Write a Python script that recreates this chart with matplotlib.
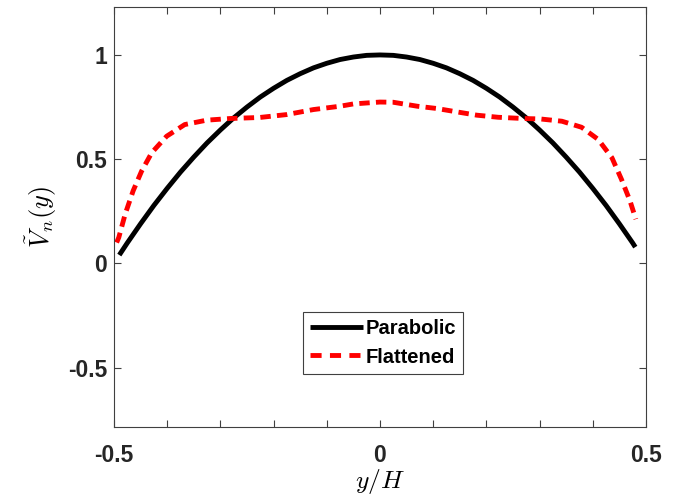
import matplotlib
matplotlib.use("Agg")
import matplotlib.pyplot as plt

# velocity profiles across the channel height
y_parabolic = [-0.49, -0.475, -0.45, -0.425, -0.40, -0.375, -0.35, -0.325, -0.30, -0.275,
               -0.25, -0.225, -0.20, -0.175, -0.15, -0.125, -0.10, -0.075, -0.05, -0.025,
               0.0, 0.025, 0.05, 0.075, 0.10, 0.125, 0.15, 0.175, 0.20, 0.225,
               0.25, 0.275, 0.30, 0.325, 0.35, 0.375, 0.40, 0.425, 0.45, 0.475, 0.48]
v_parabolic = [0.040, 0.098, 0.190, 0.278, 0.360, 0.438, 0.510, 0.578, 0.640, 0.698,
               0.750, 0.798, 0.840, 0.878, 0.910, 0.938, 0.960, 0.978, 0.990, 0.998,
               1.000, 0.998, 0.990, 0.978, 0.960, 0.938, 0.910, 0.878, 0.840, 0.798,
               0.750, 0.698, 0.640, 0.578, 0.510, 0.438, 0.360, 0.278, 0.190, 0.098, 0.078]

y_flat = [-0.495, -0.491, -0.479, -0.464, -0.448, -0.429, -0.401, -0.367, -0.326, -0.282,
          -0.226, -0.175, -0.125, -0.075, -0.05, 0.0, 0.025, 0.07, 0.107, 0.144,
          0.182, 0.222, 0.269, 0.301, 0.342, 0.379, 0.410, 0.436, 0.454, 0.470, 0.481]
v_flat = [0.10, 0.124, 0.236, 0.348, 0.443, 0.531, 0.610, 0.666, 0.687, 0.695,
          0.700, 0.714, 0.738, 0.754, 0.765, 0.774, 0.773, 0.754, 0.743, 0.727,
          0.711, 0.701, 0.695, 0.693, 0.682, 0.653, 0.595, 0.507, 0.403, 0.300, 0.212]

x_ticks = [-0.5, -0.4, -0.3, -0.2, -0.1, 0.0, 0.1, 0.2, 0.3, 0.4, 0.5]
x_ticklabels = ['-0.5', '', '', '', '', '0', '', '', '', '', '0.5']
y_ticks = [-0.5, 0, 0.5, 1]
y_ticklabels = ['-0.5', '0', '0.5', '1']

plt.rcParams['font.family'] = ['Liberation Sans', 'DejaVu Sans']
plt.rcParams['mathtext.fontset'] = 'cm'
plt.rcParams['lines.scale_dashes'] = False

fig = plt.figure(figsize=(6.85, 5), dpi=100)
ax = fig.add_axes([0.1664, 0.146, 0.7766, 0.840])

ax.plot(y_parabolic, v_parabolic, color='black', lw=3.5, label='Parabolic',
        solid_capstyle='butt', solid_joinstyle='round')
ax.plot(y_flat, v_flat, color='red', lw=3.5, dashes=(7.5, 4.5), label='Flattened',
        dash_capstyle='butt', dash_joinstyle='round')

ax.set_xlim(-0.5, 0.5)
ax.set_ylim(-0.785, 1.23)
ax.set_xticks(x_ticks)
ax.set_xticklabels(x_ticklabels)
ax.set_yticks(y_ticks)
ax.set_yticklabels(y_ticklabels)

for s in ax.spines.values():
    s.set_color('#404040')
    s.set_linewidth(0.8)
ax.tick_params(direction='in', length=5, width=0.8, color='#404040',
               top=True, right=True, labelsize=16.5)
ax.tick_params(axis='x', pad=12)
ax.tick_params(axis='y', pad=5)
for lbl in ax.get_xticklabels() + ax.get_yticklabels():
    lbl.set_fontweight('bold')
    lbl.set_color('#262626')

ax.set_xlabel(r'$y/H$', fontsize=18.5, labelpad=0)
ax.set_ylabel(r'$\tilde{V}_n(y)$', fontsize=19, labelpad=6)

leg = ax.legend(loc='center', bbox_to_anchor=(0.506, 0.2), fancybox=False,
                framealpha=1, edgecolor='#404040', handlelength=2.6,
                handletextpad=0.15, borderpad=0.35, labelspacing=0.45,
                borderaxespad=0, prop={'weight': 'bold', 'size': 14.5})
leg.get_frame().set_linewidth(0.8)
leg.get_lines()[1].set_dashes((8, 6))

fig.savefig('out.png', dpi=100)
